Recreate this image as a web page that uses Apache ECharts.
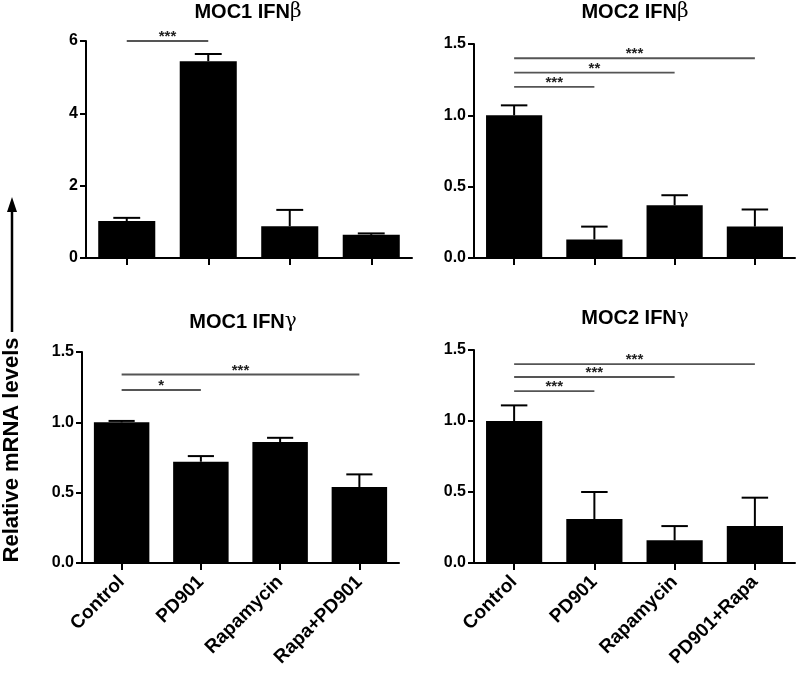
<!DOCTYPE html>
<html><head><meta charset="utf-8">
<script src="https://cdn.jsdelivr.net/npm/echarts@6/dist/echarts.min.js"></script>
<style>html,body{margin:0;padding:0;background:#fff}#c{width:800px;height:677px}</style>
</head><body><div id="c"></div>
<script>
// ---------- data ----------
const catsMOC1 = ['Control', 'PD901', 'Rapamycin', 'Rapa+PD901'];
const catsMOC2 = ['Control', 'PD901', 'Rapamycin', 'PD901+Rapa'];

const moc1IfnbMean = [1.02, 5.44, 0.88, 0.64];
const moc1IfnbErr  = [0.09, 0.20, 0.45, 0.04];
const moc2IfnbMean = [1.00, 0.13, 0.37, 0.22];
const moc2IfnbErr  = [0.07, 0.09, 0.07, 0.12];
const moc1IfngMean = [1.00, 0.72, 0.86, 0.54];
const moc1IfngErr  = [0.01, 0.04, 0.03, 0.09];
const moc2IfngMean = [1.00, 0.31, 0.16, 0.26];
const moc2IfngErr  = [0.11, 0.19, 0.10, 0.20];

const sigMoc1Ifnb = [{from: 0, to: 1, y: 6.0, text: '***'}];
const sigMoc2Ifnb = [{from: 0, to: 1, y: 1.20, text: '***'}, {from: 0, to: 2, y: 1.30, text: '**'}, {from: 0, to: 3, y: 1.40, text: '***'}];
const sigMoc1Ifng = [{from: 0, to: 1, y: 1.23, text: '*'}, {from: 0, to: 3, y: 1.34, text: '***'}];
const sigMoc2Ifng = [{from: 0, to: 1, y: 1.21, text: '***'}, {from: 0, to: 2, y: 1.31, text: '***'}, {from: 0, to: 3, y: 1.40, text: '***'}];

const yTicks1 = {min: 0, max: 6, interval: 2};
const yTicks2 = {min: 0, max: 1.5, interval: 0.5};

// ---------- chart ----------
const FONT = 'Liberation Sans, Arial, Helvetica, sans-serif';
const panels = [
  {title: 'MOC1 IFN', greek: 'β', cats: catsMOC1, mean: moc1IfnbMean, err: moc1IfnbErr, sig: sigMoc1Ifnb, ticks: yTicks1, dec: 0, labels: false,
   grid: {left: 86, top: 41, width: 326, height: 217}, tx: 248, ty: 12},
  {title: 'MOC2 IFN', greek: 'β', cats: catsMOC2, mean: moc2IfnbMean, err: moc2IfnbErr, sig: sigMoc2Ifnb, ticks: yTicks2, dec: 1, labels: false,
   grid: {left: 474, top: 44, width: 321, height: 214}, tx: 635, ty: 12},
  {title: 'MOC1 IFN', greek: 'γ', cats: catsMOC1, mean: moc1IfngMean, err: moc1IfngErr, sig: sigMoc1Ifng, ticks: yTicks2, dec: 1, labels: true,
   grid: {left: 82, top: 352, width: 317, height: 211}, tx: 243, ty: 322},
  {title: 'MOC2 IFN', greek: 'γ', cats: catsMOC2, mean: moc2IfngMean, err: moc2IfngErr, sig: sigMoc2Ifng, ticks: yTicks2, dec: 1, labels: true,
   grid: {left: 474, top: 350, width: 321, height: 213}, tx: 635, ty: 318}
];

const option = {
  backgroundColor: '#fff',
  animation: false,
  grid: [], xAxis: [], yAxis: [], series: [],
  graphic: [
    {type: 'line', shape: {x1: 12, y1: 332, x2: 12, y2: 210}, style: {stroke: '#000', lineWidth: 2.5}},
    {type: 'polygon', shape: {points: [[12, 197], [7, 212], [17, 212]]}, style: {fill: '#000'}},
    {type: 'text', x: 12, y: 450, rotation: Math.PI / 2,
     style: {text: 'Relative mRNA levels', font: 'bold 22px ' + FONT, fill: '#000',
             textAlign: 'center', textVerticalAlign: 'middle', align: 'center', verticalAlign: 'middle'}}
  ]
};

panels.forEach((p, i) => {
  option.graphic.push({
    type: 'text', x: p.tx, y: p.ty,
    style: {
      text: '{a|' + p.title + '}{b|' + p.greek + '}',
      align: 'center', verticalAlign: 'middle', textAlign: 'center', textVerticalAlign: 'middle',
      rich: {
        a: {fontFamily: FONT, fontWeight: 'bold', fontSize: 20, fill: '#000', color: '#000'},
        b: {fontFamily: 'DejaVu Serif, serif', fontWeight: 'normal', fontSize: 20, fill: '#000', color: '#000'}
      }
    }
  });
  option.grid.push(Object.assign({containLabel: false}, p.grid));
  option.xAxis.push({
    type: 'category', gridIndex: i, data: p.cats,
    axisLine: {show: true, lineStyle: {color: '#000', width: 2}},
    axisTick: {show: true, alignWithLabel: true, length: 7, lineStyle: {color: '#000', width: 2}},
    axisLabel: {show: p.labels, rotate: 45, margin: 16, color: '#000', fontFamily: FONT, fontWeight: 'bold', fontSize: 19},
    splitLine: {show: false}
  });
  option.yAxis.push({
    type: 'value', gridIndex: i, min: p.ticks.min, max: p.ticks.max, interval: p.ticks.interval,
    axisLine: {show: true, lineStyle: {color: '#000', width: 2}},
    axisTick: {show: true, length: 6, lineStyle: {color: '#000', width: 2}},
    axisLabel: {margin: 8, color: '#000', fontFamily: FONT, fontWeight: 'bold', fontSize: 16,
                formatter: v => v.toFixed(p.dec)},
    splitLine: {show: false}
  });
  option.series.push({
    type: 'bar', xAxisIndex: i, yAxisIndex: i, data: p.mean,
    barCategoryGap: '30%', itemStyle: {color: '#000'}, silent: true
  });
  option.series.push({
    type: 'custom', xAxisIndex: i, yAxisIndex: i,
    data: p.mean.map((m, k) => [k, m, p.err[k]]),
    renderItem: function (params, api) {
      const x = api.value(0), m = api.value(1), e = api.value(2);
      const b = api.coord([x, m]), t = api.coord([x, m + e]);
      const cw = api.size([1, 0])[0] * 0.33;
      return {type: 'group', children: [
        {type: 'line', shape: {x1: b[0], y1: b[1], x2: t[0], y2: t[1]}, style: {stroke: '#000', lineWidth: 2}},
        {type: 'line', shape: {x1: t[0] - cw / 2, y1: t[1], x2: t[0] + cw / 2, y2: t[1]}, style: {stroke: '#000', lineWidth: 2}}
      ]};
    }, z: 5, silent: true
  });
  option.series.push({
    type: 'custom', xAxisIndex: i, yAxisIndex: i,
    data: p.sig.map(s => [s.from, s.to, s.y]),
    renderItem: function (params, api) {
      const s = p.sig[params.dataIndex];
      const a = api.coord([s.from, s.y]), b = api.coord([s.to, s.y]);
      return {type: 'group', children: [
        {type: 'line', shape: {x1: a[0], y1: a[1], x2: b[0], y2: b[1]}, style: {stroke: '#555', lineWidth: 1.8}},
        {type: 'text', x: (a[0] + b[0]) / 2, y: a[1] - 4,
         style: {text: s.text, font: 'bold 15px ' + FONT, fill: '#222', textAlign: 'center', textVerticalAlign: 'middle', align: 'center', verticalAlign: 'middle'}}
      ]};
    }, z: 6, silent: true
  });
});

const chart = echarts.init(document.getElementById('c'), null, {renderer: 'canvas'});
chart.setOption(option);
</script>
</body></html>
